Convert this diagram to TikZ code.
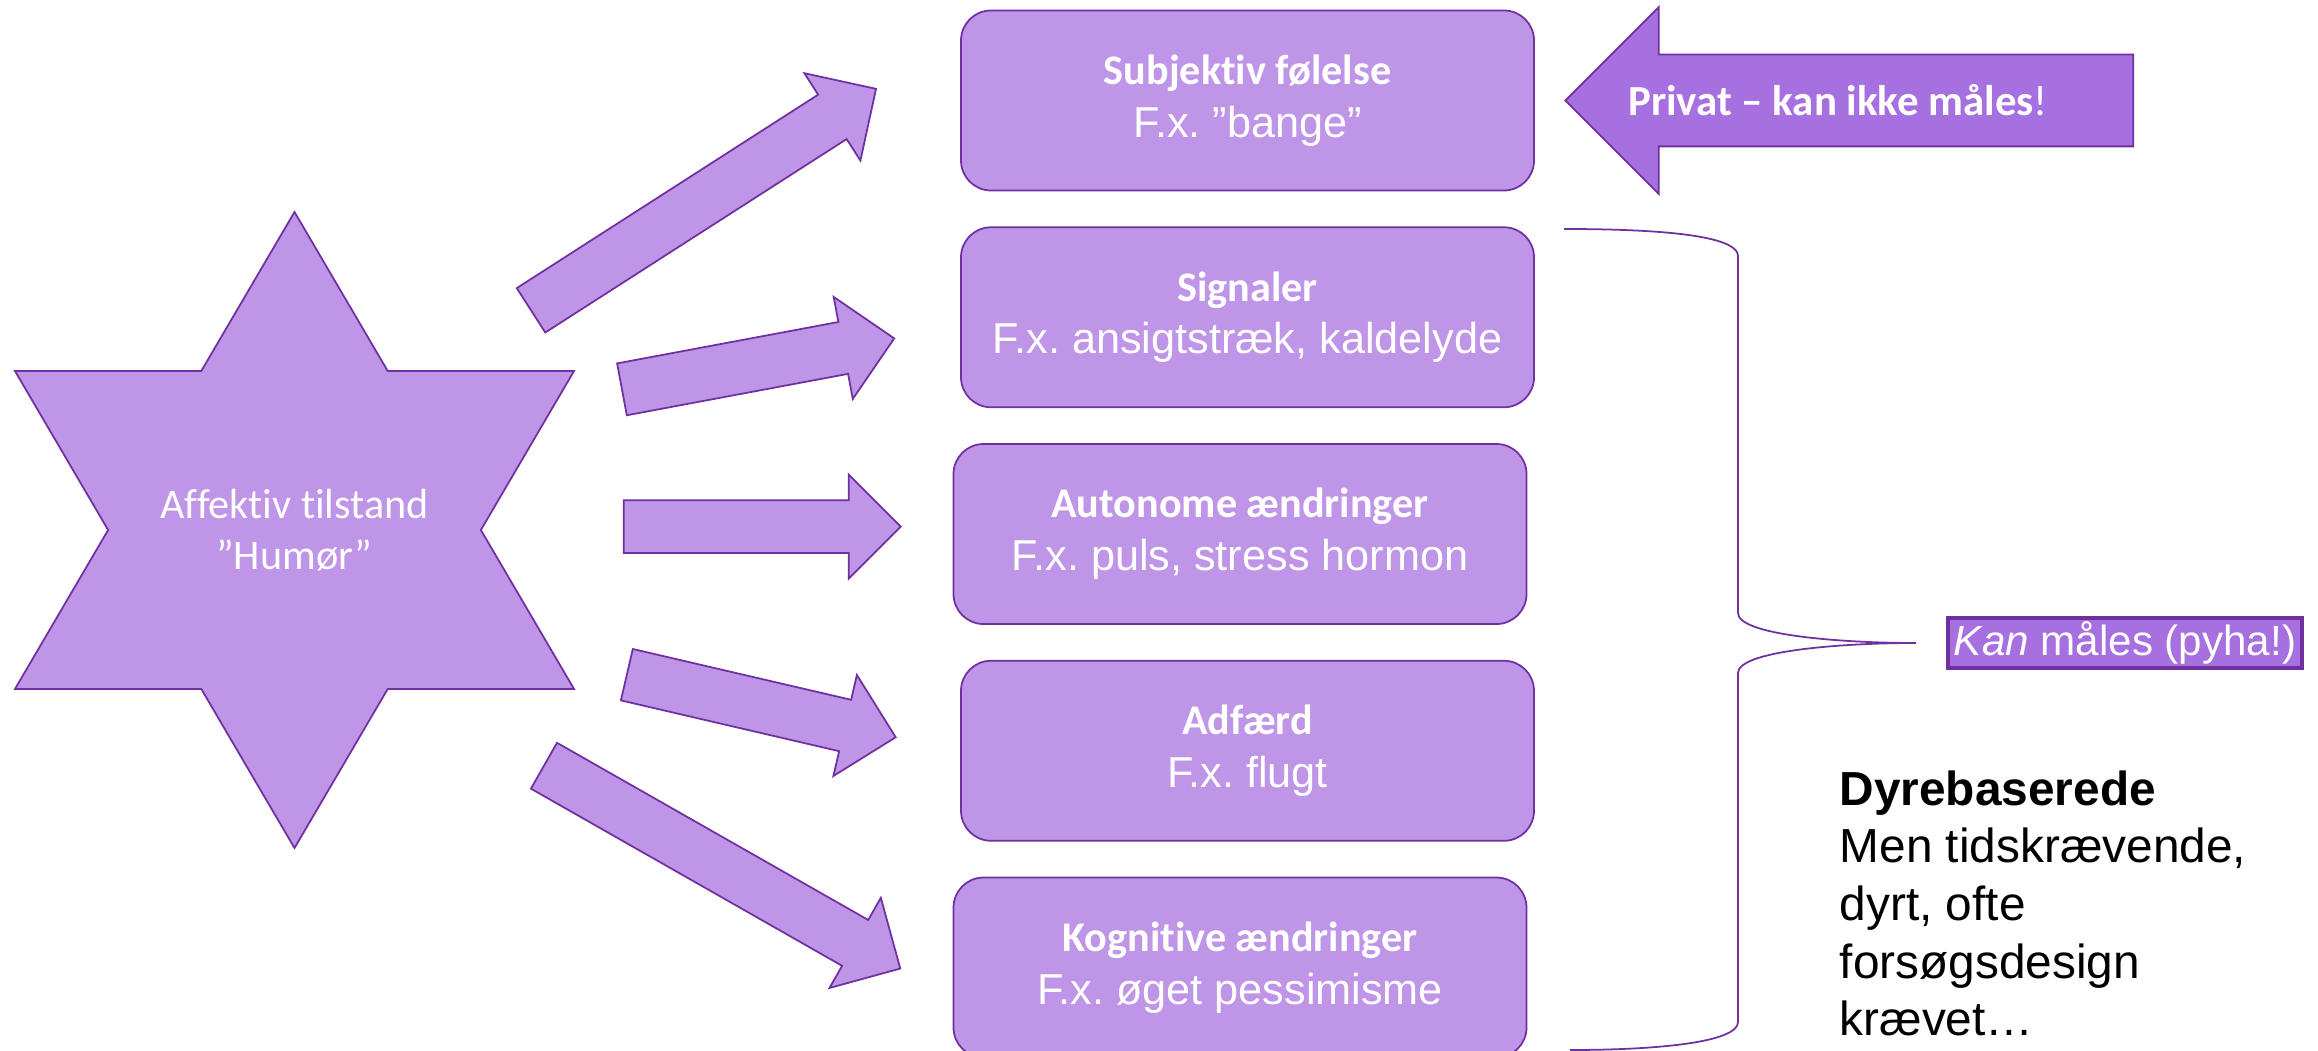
\documentclass[tikz,border=0pt]{standalone}
\usepackage{fontspec}
\setmainfont{Liberation Sans}
\newfontfamily\calibri[Ligatures=NoCommon]{Carlito}
\usepackage{tikz}
\usetikzlibrary{positioning,shapes.geometric,shapes.arrows}
\frenchspacing

\definecolor{lilla}{RGB}{191,149,232}
\definecolor{morklilla}{RGB}{112,48,160}
\definecolor{pillilla}{RGB}{167,112,224}

\begin{document}
\begin{tikzpicture}[
    boks/.style={rectangle, rounded corners=0.3cm, draw=morklilla, line width=0.5pt,
        fill=lilla, text=white, minimum width=5.73cm, minimum height=1.80cm,
        align=center, font=\fontsize{12.3}{15}\selectfont},
    blokpil/.style={single arrow, draw=morklilla, line width=0.5pt, fill=lilla, anchor=tail,
        inner xsep=0pt, inner ysep=0.255cm, single arrow head extend=0.255cm,
        single arrow head indent=0pt, single arrow tip angle=90},
    node distance=0.35cm
]
    \useasboundingbox (0,0) rectangle (23.18,10.5);
    %
    % stjernen
    \node[star, star points=6, star point ratio=1.732, minimum size=6.36cm, inner sep=0pt,
        xscale=1.015, draw=morklilla, line width=0.5pt, fill=lilla] (humor) at (2.945,5.2) {};
    \node[text=white, align=center, font=\calibri\fontsize{12}{14.4}\selectfont] (humortekst)
        at (humor.center) {Affektiv tilstand\\”Humør”};
    %
    % kasserne
    \node[boks] (subj) at (12.475,9.495) {{\calibri\bfseries\fontsize{12}{15}\selectfont Subjektiv følelse}\\F.x. ”bange”};
    \node[boks, below=of subj] (sign) {{\calibri\bfseries\fontsize{12}{15}\selectfont Signaler}\\F.x. ansigtstræk, kaldelyde};
    \node[boks, below=of sign, xshift=-0.075cm] (auto) {{\calibri\bfseries\fontsize{12}{15}\selectfont Autonome ændringer}\\F.x. puls, stress hormon};
    \node[boks, below=of auto, xshift=0.075cm] (adf) {{\calibri\bfseries\fontsize{12}{15}\selectfont Adfærd}\\F.x. flugt};
    \node[boks, below=of adf, xshift=-0.075cm] (kogn) {{\calibri\bfseries\fontsize{12}{15}\selectfont Kognitive ændringer}\\F.x. øget pessimisme};
    %
    % pilene
    \node[blokpil, minimum height=4.10cm, rotate=32.7]   (pil1) at (5.303,7.392) {};
    \node[blokpil, minimum height=2.77cm, rotate=10.6]   (pil2) at (6.211,6.605) {};
    \node[blokpil, minimum height=2.77cm]                (pil3) at (6.228,5.234) {};
    \node[blokpil, minimum height=2.76cm, rotate=-13.1]  (pil4) at (6.260,3.755) {};
    \node[blokpil, minimum height=4.10cm, rotate=-29.65] (pil5) at (5.432,2.847) {};
    %
    % privat
    \node[single arrow, shape border rotate=180, anchor=tip, draw=morklilla, line width=0.5pt, fill=pillilla,
        minimum height=5.68cm, inner xsep=0pt, inner ysep=0.45cm, text height=0pt, text depth=0pt,
        single arrow head extend=0.475cm, single arrow tip angle=90] (privat) at (15.64,9.495) {};
    \node[text=white, font=\calibri\fontsize{12.2}{14}\selectfont] (privattekst) at (18.38,9.495)
        {\textbf{Privat – kan ikke måles}!};
    %
    % klammen
    \node[rectangle, draw=morklilla, line width=1pt, fill=pillilla, text=white,
        minimum width=3.54cm, minimum height=0.50cm, inner sep=0pt,
        font=\fontsize{12}{14}\selectfont] (kan) at (21.25,4.07) {\textit{Kan} måles (pyha!)};
    \coordinate (ktop) at (15.64,8.21);
    \coordinate (kspids) at (19.16,4.07);
    \coordinate (kbund) at (15.70,0.0);
    \draw[morklilla, line width=0.5pt] (ktop)
        .. controls (16.9,8.21) and (17.38,8.10) .. (17.38,7.94)
        -- (17.38,4.37)
        .. controls (17.38,4.15) and (18.4,4.07) .. (kspids)
        .. controls (18.4,4.07) and (17.38,3.99) .. (17.38,3.77)
        -- (17.38,0.28)
        .. controls (17.38,0.08) and (16.6,0.0) .. (kbund);
    %
    \node[anchor=north west, inner sep=0pt, align=left,
        font=\fontsize{13.6}{16.4}\selectfont] (dyr) at (18.39,2.80)
        {\textbf{Dyrebaserede}\\Men tidskrævende,\\dyrt, ofte\\forsøgsdesign\\krævet…};
\end{tikzpicture}
\end{document}
